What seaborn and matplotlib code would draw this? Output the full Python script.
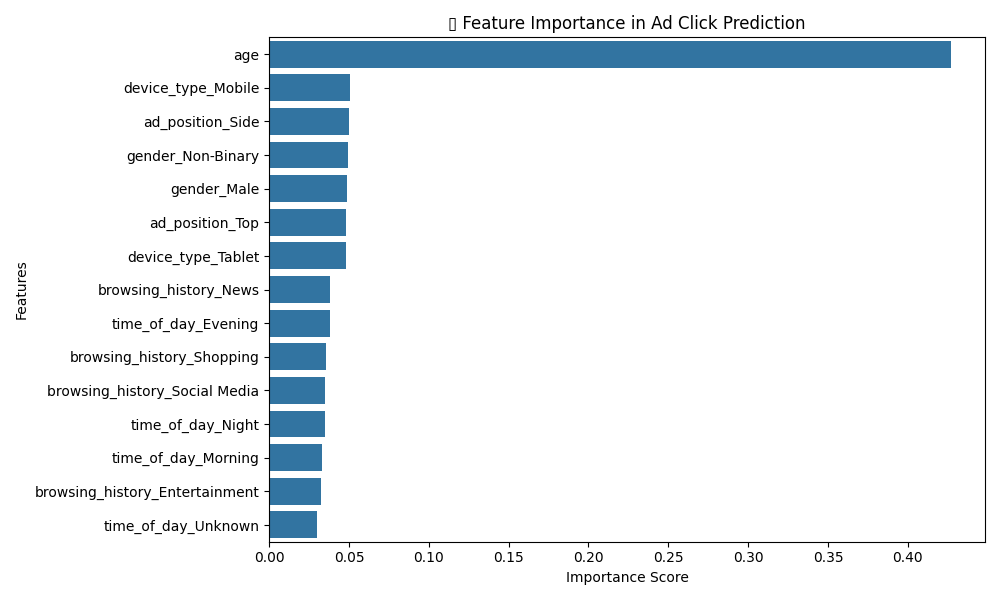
import matplotlib
matplotlib.use("Agg")
import matplotlib.pyplot as plt
import seaborn as sns
import pandas as pd

features = ["age", "device_type_Mobile", "ad_position_Side", "gender_Non-Binary",
            "gender_Male", "ad_position_Top", "device_type_Tablet",
            "browsing_history_News", "time_of_day_Evening", "browsing_history_Shopping",
            "browsing_history_Social Media", "time_of_day_Night", "time_of_day_Morning",
            "browsing_history_Entertainment", "time_of_day_Unknown"]
importance = [0.427, 0.0505, 0.050, 0.0493, 0.0487, 0.048, 0.048,
              0.038, 0.038, 0.0355, 0.035, 0.035, 0.033, 0.0325, 0.030]

df = pd.DataFrame({"Feature": features, "Importance": importance})

plt.figure(figsize=(10, 6))
sns.barplot(x="Importance", y="Feature", data=df)
# the reference shows an empty box before the title, U+25AF is the same shape
plt.title("\u25AF Feature Importance in Ad Click Prediction")
plt.xlabel("Importance Score")
plt.ylabel("Features")
plt.tight_layout()
plt.savefig("out.png", dpi=100)
